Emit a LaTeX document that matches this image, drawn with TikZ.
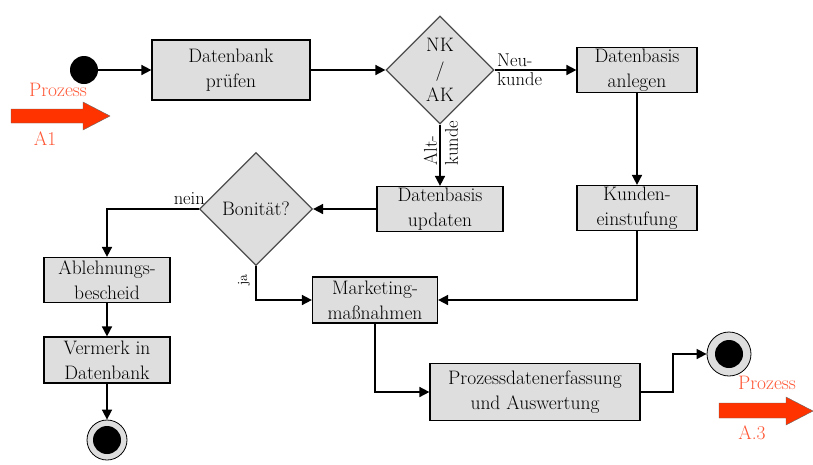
\documentclass[tikz,border=0pt]{standalone}
\usetikzlibrary{arrows.meta,shapes.geometric}
\definecolor{boxfill}{HTML}{DEDEDE}
\definecolor{procred}{HTML}{FF3300}
\definecolor{proctext}{HTML}{FF5533}
\begin{document}
\begin{tikzpicture}[x=1pt,y=-1pt,
  every node/.style={font=\fontsize{19.5}{25}\selectfont},
  stepbox/.style={draw=black,line width=1.2pt,fill=boxfill,align=center,inner sep=0pt},
  decision/.style={diamond,draw=black!70,line width=1.2pt,fill=boxfill,align=center,inner sep=0pt,aspect=1},
  flow/.style={line width=1.6pt,-{Triangle[length=10pt,width=10pt]}},
  startdot/.style={circle,fill=black,minimum size=28pt,inner sep=0pt},
  enddot/.style={circle,draw=black,line width=0.8pt,fill=boxfill,minimum size=40pt,inner sep=0pt,
    path picture={\fill[black] (path picture bounding box.center) circle[radius=14pt];}},
  lbl/.style={inner sep=1pt,font=\fontsize{18.5}{21}\selectfont},
  proclbl/.style={text=proctext,inner sep=0pt,font=\fontsize{19.5}{21}\selectfont},
  procarrow/.style={fill=procred,draw=black!60,line width=0.4pt}
]
\useasboundingbox (0,0) rectangle (813,464);

% nodes
\node[startdot] (start) at (84,70) {};
\node[stepbox,minimum width=158pt,minimum height=60pt] (pruefen) at (231,70) {Datenbank\\prüfen};
\node[decision,minimum width=108pt,minimum height=108pt] (nkak) at (440,70) {NK\\/\\AK};
\node[stepbox,minimum width=120pt,minimum height=45pt] (anlegen) at (637,70) {Datenbasis\\anlegen};
\node[stepbox,minimum width=126pt,minimum height=45pt] (updaten) at (440,209) {Datenbasis\\updaten};
\node[stepbox,minimum width=120pt,minimum height=45pt] (einstufung) at (637,208) {Kunden-\\einstufung};
\node[decision,minimum width=113pt,minimum height=113pt] (bonitaet) at (256,209) {Bonität?};
\node[stepbox,minimum width=126pt,minimum height=45pt] (ablehnung) at (107,280) {Ablehnungs-\\bescheid};
\node[stepbox,minimum width=126pt,minimum height=46pt] (vermerk) at (107,360) {Vermerk in\\Datenbank};
\node[enddot] (end1) at (107,440) {};
\node[stepbox,minimum width=125pt,minimum height=46pt] (marketing) at (375,300) {Marketing-\\maßnahmen};
\node[stepbox,minimum width=210pt,minimum height=57pt] (prozess) at (535,392) {Prozessdatenerfassung\\und Auswertung};
\node[enddot,minimum size=44pt] (end2) at (729,354) {};

% connectors
\draw[flow] (start) -- (pruefen);
\draw[flow] (pruefen) -- (nkak.west);
\draw[flow] (nkak.east) -- (anlegen.west |- nkak.east);
\draw[flow] (nkak.south) -- (updaten.north);
\draw[flow] (anlegen) -- (einstufung);
\draw[flow] (updaten.west) -- (bonitaet.east);
\draw[flow] (bonitaet.west) -| (ablehnung.north);
\draw[flow] (ablehnung) -- (vermerk);
\draw[flow] (vermerk) -- (end1);
\draw[flow] (bonitaet.south) |- (marketing.west);
\draw[flow] (einstufung.south) |- (marketing.east);
\draw[flow] (marketing.south) |- (prozess.west);
\coordinate (bend) at (673,392);
\draw[flow] (prozess.east) -- (bend) |- (end2.west);

% connector labels
\node[lbl,anchor=south west] (neu) at (496,68) {Neu-};
\node[lbl,anchor=north west] (kunde) at (496,71) {kunde};
\node[lbl,rotate=90,align=left,anchor=center] (alt) at (441,143) {Alt-\\kunde};
\node[lbl,anchor=south east] (nein) at (206,206) {nein};
\node[lbl,rotate=90,anchor=center,font=\fontsize{14}{15}\selectfont] (ja) at (244,280) {ja};

% process hand-over markers
\draw[procarrow] (11,109) -- (83,109) -- (83,102) -- (110,116) -- (83,130) -- (83,123) -- (11,123) -- cycle;
\node[proclbl] (p1) at (58,90) {Prozess};
\node[proclbl] (a1) at (45,139) {A1};
\draw[procarrow] (719,403) -- (786,403) -- (786,397) -- (813,411) -- (786,425) -- (786,418) -- (719,418) -- cycle;
\node[proclbl] (p3) at (767,383) {Prozess};
\node[proclbl] (a3) at (752,433) {A.3};
\end{tikzpicture}
\end{document}
